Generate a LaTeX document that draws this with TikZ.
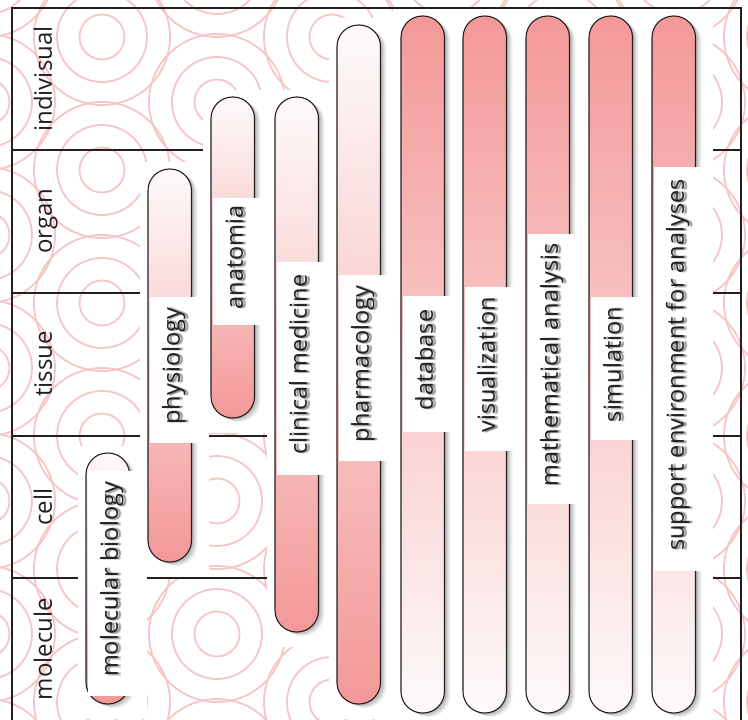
\documentclass[tikz,border=0pt]{standalone}
\usepackage{fontspec}
\setmainfont{Open Sans}
\usetikzlibrary{shadows}
\definecolor{pinkc}{RGB}{244,152,152}
\definecolor{palec}{RGB}{253,250,250}
\definecolor{ringc}{RGB}{246,198,198}
\definecolor{ink}{RGB}{35,31,32}
\tikzset{
  ringline/.style={draw=ringc, line width=1.8pt},
  frameline/.style={draw=ink, line width=2.8pt},
  divline/.style={draw=ink, line width=2pt},
  backing/.style={fill=white},
  pillbase/.style={rectangle, rounded corners=21.5pt, draw=ink, line width=1.1pt,
    minimum width=43.5pt, inner sep=0pt,
    general shadow={fill=black, opacity=0.08, shadow xshift=1.2pt, shadow yshift=-0.8pt},
    general shadow={fill=black, opacity=0.07, shadow xshift=2.4pt, shadow yshift=-1.6pt},
    general shadow={fill=black, opacity=0.07, shadow xshift=3.6pt, shadow yshift=-2.4pt},
    general shadow={fill=black, opacity=0.06, shadow xshift=4.8pt, shadow yshift=-3.2pt},
    general shadow={fill=black, opacity=0.05, shadow xshift=6pt, shadow yshift=-4pt}},
  lbox/.style={rectangle, fill=white, rotate=90, minimum height=49pt, inner sep=0pt},
  ltext/.style={rotate=90, text=ink, font=\fontsize{23.5}{28}\selectfont,
    text height=17pt, text depth=5.5pt, inner sep=0pt},
  lshadow/.style={ltext, text=black, text opacity=0.13},
  rowtext/.style={rotate=90, text=ink, font=\fontsize{24}{28}\selectfont, anchor=base, inner sep=0pt},
}
\begin{document}
\begin{tikzpicture}[x=1pt,y=-1pt]
\useasboundingbox (0,0) rectangle (748,720);
% background rings
\begin{scope}
\clip (0,0) rectangle (748,720);
\foreach \k in {0,...,7} {
  \pgfmathsetmacro\cx{-13+115*\k}
  \pgfmathsetmacro\ph{ifthenelse(mod(\k,2)==0,102,37)}
  \foreach \n in {-1,...,6} {
    \pgfmathsetmacro\cy{\ph+133*\n}
    \foreach \r in {22.5,45,68}
      \draw[ringline] (\cx,\cy) circle[radius=\r];
  }
}
\end{scope}
% frame and dividers
\foreach \y in {150,293,436,578} \draw[divline] (12,\y) -- (741,\y);
\draw[frameline] (12,722) -- (12,8) -- (741,8) -- (741,722);
\draw[frameline] (12,721.5) -- (741,721.5);
% white backings
\foreach \x/\t/\b in {86/453/704,148/169/562,211/97/418,275/97/632,337/25/704,
    401/16/713,463/16/713,526/16/713,589/16/713,652/16/713}
  \fill[backing] (\x-8,\t-7) rectangle (\x+60.5,\b+15);
% pills
\foreach \x/\t/\b/\tc/\bc [count=\i] in {86/453/704/palec/pinkc,148/169/562/palec/pinkc,
    211/97/418/palec/pinkc,275/97/632/palec/pinkc,337/25/704/palec/pinkc,
    401/16/713/pinkc/palec,463/16/713/pinkc/palec,526/16/713/pinkc/palec,
    589/16/713/pinkc/palec,652/16/713/pinkc/palec}
  \node[pillbase, top color=\tc, bottom color=\bc, minimum height={(\b-\t)*1pt}]
    (pill\i) at (\x+21.75,{(\t+\b)/2}) {};
% labels
\foreach \txt/\x/\ya/\yb [count=\i] in {molecular biology/86/471/696,physiology/148/297/443,
    anatomia/211/198/325,clinical medicine/275/262/475,pharmacology/337/275/461,
    database/401/296/432,visualization/463/287/451,mathematical analysis/526/234/504,
    simulation/589/297/440,support environment for analyses/652/167/571} {
  \node[lbox, minimum width={(\yb-\ya)*1pt}] (lb\i) at (\x+26,{(\ya+\yb)/2}) {};
  \foreach \dx/\dy [count=\j] in {1.5/0.5,2.5/1.2,3.5/0.5,2.5/-0.5,3/0}
    \node[lshadow] (ls\i-\j) at ([shift={(\dx,\dy-4)}]lb\i.center) {\txt};
  \node[ltext] (lt\i) at ([yshift=4pt]lb\i.center) {\txt};
}
% row labels
\foreach \txt/\y [count=\i] in {indivisual/79,organ/221,tissue/364,cell/507,molecule/649}
  \node[rowtext] (row\i) at (52,\y) {\txt};
\end{tikzpicture}
\end{document}
